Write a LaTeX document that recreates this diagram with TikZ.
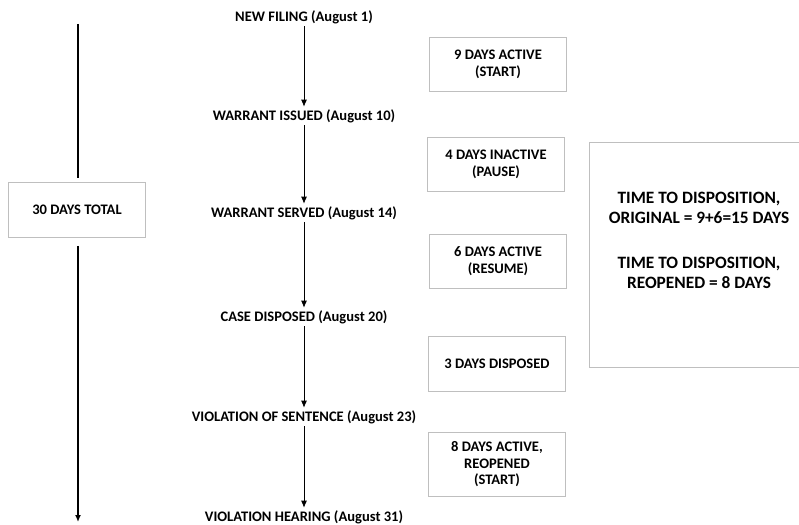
\documentclass[tikz,border=0pt]{standalone}
\usepackage{fontspec}
\setmainfont{Carlito}
\usetikzlibrary{arrows.meta}
\definecolor{boxgrey}{HTML}{BFBFBF}
\tikzset{
  lbl/.style={font=\bfseries\fontsize{14.6}{16}\selectfont, inner sep=2.5pt, text=black},
  dbox/.style={draw=boxgrey, line width=0.8pt, fill=white, minimum width=138, minimum height=55, align=center, font=\bfseries\fontsize{14.6}{16.5}\selectfont, inner sep=2pt},
  bigtxt/.style={font=\bfseries\fontsize{17.4}{20}\selectfont, align=center},
  flow/.style={line width=0.8pt, -{Latex[length=7pt,width=6pt]}},
  axis/.style={line width=1.6pt}
}
\begin{document}
\begin{tikzpicture}[x=1bp,y=-1bp]
\useasboundingbox (0,0) rectangle (799,525);
\clip (0,0) rectangle (799,525);
% middle column
\node[lbl] (n1) at (304,17) {NEW FILING (August 1)};
\node[lbl] (n2) at (304,116) {WARRANT ISSUED (August 10)};
\node[lbl] (n3) at (304,213) {WARRANT SERVED (August 14)};
\node[lbl] (n4) at (304,317) {CASE DISPOSED (August 20)};
\node[lbl] (n5) at (304,417) {VIOLATION OF SENTENCE (August 23)};
\node[lbl] (n6) at (304,517) {VIOLATION HEARING (August 31)};
\draw[flow] (n1) -- (n2);
\draw[flow] (n2) -- (n3);
\draw[flow] (n3) -- (n4);
\draw[flow] (n4) -- (n5);
\draw[flow] (n5) -- (n6);
% duration boxes
\node[dbox] (d1) at (498,64.5) {9 DAYS ACTIVE\\(START)};
\node[dbox] (d2) at (496,164.5) {4 DAYS INACTIVE\\(PAUSE)};
\node[dbox, minimum height=54] (d3) at (498,261) {6 DAYS ACTIVE\\(RESUME)};
\node[dbox] (d4) at (497,364) {3 DAYS DISPOSED};
\node[dbox, minimum height=65] (d5) at (497,464.5) {8 DAYS ACTIVE,\\REOPENED\\(START)};
% total
\node[dbox] (tot) at (77,210) {30 DAYS TOTAL};
\coordinate (ltop) at (78,24);
\coordinate (lbot) at (78,522);
\draw[axis] (ltop) -- ([yshift=4bp]tot.north -| ltop);
\draw[axis, -{Latex[length=7pt,width=6pt]}] ([yshift=-8bp]tot.south -| ltop) -- (lbot);
% summary box
\draw[draw=boxgrey, line width=0.8pt] (589,142) rectangle (830,367);
\node[bigtxt] (s1) at (699,208) {TIME TO DISPOSITION,\\ORIGINAL = 9+6=15 DAYS};
\node[bigtxt] (s2) at (699,273) {TIME TO DISPOSITION,\\REOPENED = 8 DAYS};
\end{tikzpicture}
\end{document}
